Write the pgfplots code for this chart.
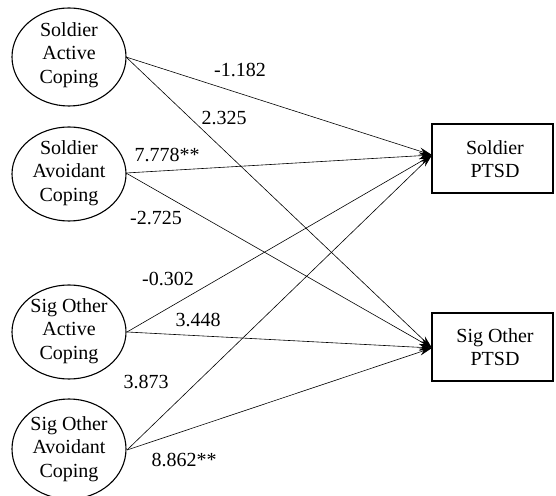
\documentclass[border=0pt]{standalone}
\usepackage{fontspec}
\setmainfont{Liberation Serif}
\usepackage{pgfplots}
\pgfplotsset{compat=1.18}
\usetikzlibrary{arrows.meta}
\tikzset{lbl/.style={font=\fontsize{20}{23.5}\selectfont, align=center, inner sep=0pt}}
\begin{document}
\begin{tikzpicture}
\begin{axis}[width=556pt,height=495pt,scale only axis,
  xmin=0,xmax=556,ymin=0,ymax=495,hide axis,clip=true]
% paths
\addplot[black, line width=0.6pt, -{Stealth[length=13pt,width=7pt]}] coordinates {(126,438) (432,340)};
\addplot[black, line width=0.6pt, -{Stealth[length=13pt,width=7pt]}] coordinates {(126,438) (432,147)};
\addplot[black, line width=0.6pt, -{Stealth[length=13pt,width=7pt]}] coordinates {(126,322) (432,340)};
\addplot[black, line width=0.6pt, -{Stealth[length=13pt,width=7pt]}] coordinates {(126,322) (432,147)};
\addplot[black, line width=0.6pt, -{Stealth[length=13pt,width=7pt]}] coordinates {(127,163) (432,340)};
\addplot[black, line width=0.6pt, -{Stealth[length=13pt,width=7pt]}] coordinates {(127,163) (432,147)};
\addplot[black, line width=0.6pt, -{Stealth[length=13pt,width=7pt]}] coordinates {(127,45) (432,340)};
\addplot[black, line width=0.6pt, -{Stealth[length=13pt,width=7pt]}] coordinates {(127,45) (432,147)};
% ellipses
\draw[line width=1.1pt] (axis cs:69,438) ellipse [x radius=57pt, y radius=49pt];
\draw[line width=1.1pt] (axis cs:69,321) ellipse [x radius=57pt, y radius=47pt];
\draw[line width=1.1pt] (axis cs:69,163) ellipse [x radius=57pt, y radius=47pt];
\draw[line width=1.1pt] (axis cs:69,46) ellipse [x radius=57pt, y radius=50pt];
\node[lbl] at (axis cs:69,440) {Soldier\\Active\\Coping};
\node[lbl] at (axis cs:69,322) {Soldier\\Avoidant\\Coping};
\node[lbl] at (axis cs:69,164) {Sig Other\\Active\\Coping};
\node[lbl] at (axis cs:69,46) {Sig Other\\Avoidant\\Coping};
% boxes
\draw[line width=2pt] (axis cs:432,371) rectangle (axis cs:553,302);
\draw[line width=2pt] (axis cs:432,182) rectangle (axis cs:553,114);
\node[lbl] at (axis cs:495,336) {Soldier\\PTSD};
\node[lbl] at (axis cs:495,148) {Sig Other\\PTSD};
% coefficients
\node[lbl] at (axis cs:240,425) {-1.182};
\node[lbl] at (axis cs:224,377) {2.325};
\node[lbl] at (axis cs:167,340) {7.778**};
\node[lbl] at (axis cs:156,277) {-2.725};
\node[lbl] at (axis cs:168,216) {-0.302};
\node[lbl] at (axis cs:198,175) {3.448};
\node[lbl] at (axis cs:146,113) {3.873};
\node[lbl] at (axis cs:184,35) {8.862**};
\end{axis}
\pgfresetboundingbox
\path (current axis.south west) rectangle (current axis.north east);
\end{tikzpicture}
\end{document}
